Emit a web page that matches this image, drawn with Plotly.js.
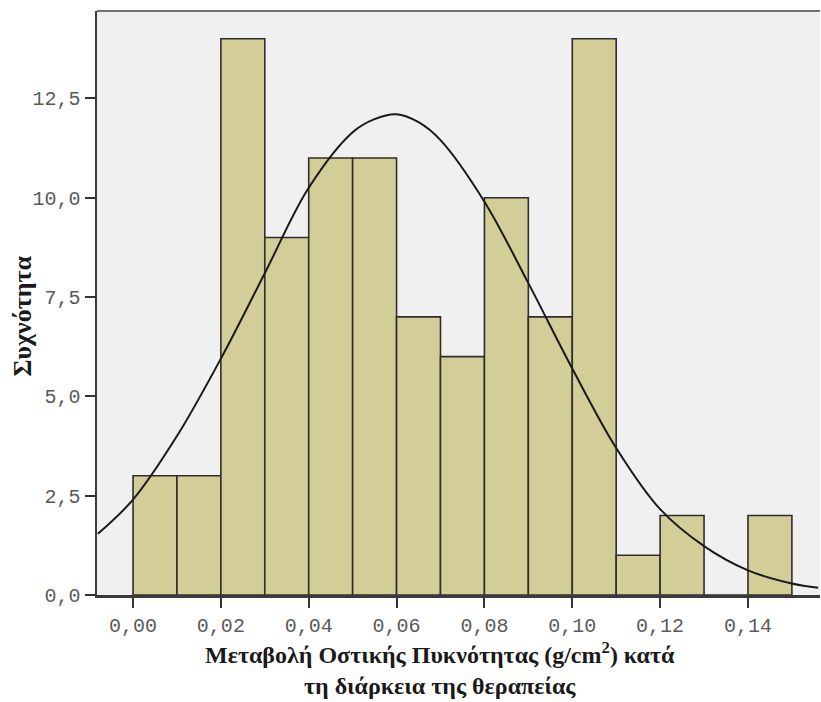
<!DOCTYPE html>
<html>
<head>
<meta charset="utf-8">
<script src="https://cdn.plot.ly/plotly-3.0.1.min.js"></script>
<style>html,body{margin:0;padding:0;background:#fff;}#chart{width:821px;height:702px;}</style>
</head>
<body>
<div id="chart"></div>
<script>
// Histogram bins (left edges, width 0.01) and frequencies
const binStart = [0.00,0.01,0.02,0.03,0.04,0.05,0.06,0.07,0.08,0.09,0.10,0.11,0.12,0.13,0.14];
const counts   = [3,3,14,9,11,11,7,6,10,7,14,1,2,0,2];
const binWidth = 0.01;

// Normal curve points
const curveX = [-0.008,0.00,0.01,0.02,0.03,0.04,0.05,0.055,0.06,0.065,0.07,0.08,0.09,0.10,0.11,0.12,0.13,0.14,0.15,0.156];
const curveY = [1.54,2.40,4.00,5.95,8.10,10.25,11.65,11.98,12.10,11.90,11.45,9.90,7.85,5.70,3.70,2.16,1.23,0.62,0.29,0.18];

// Tick labels
const xTickVals = [0.00,0.02,0.04,0.06,0.08,0.10,0.12,0.14];
const xTickText = ["0,00","0,02","0,04","0,06","0,08","0,10","0,12","0,14"];
const yTickVals = [0,2.5,5,7.5,10,12.5];
const yTickText = ["0,0","2,5","5,0","7,5","10,0","12,5"];

const yTitle = "Συχνότητα";
const xTitle = "Μεταβολή Οστικής Πυκνότητας (g/cm<sup>2</sup>) κατά<br>τη διάρκεια της θεραπείας";

const traces = [
  {
    type: 'bar',
    x: binStart,
    y: counts,
    width: binWidth,
    offset: 0,
    marker: {color: '#d3ce97', line: {color: '#2e2e2e', width: 1.6}},
    hoverinfo: 'skip'
  },
  {
    type: 'scatter',
    mode: 'lines',
    x: curveX,
    y: curveY,
    line: {color: '#1a1a1a', width: 2, shape: 'spline', smoothing: 1},
    hoverinfo: 'skip'
  }
];

const tickFont = {family: 'Liberation Mono, Courier New, monospace', size: 20, color: '#5a5a5a'};
const titleFont = {family: 'Liberation Serif, Times New Roman, serif', color: '#1a1a1a'};

const layout = {
  width: 821, height: 702,
  margin: {l: 97, r: 1, t: 11, b: 107},
  paper_bgcolor: '#ffffff',
  plot_bgcolor: '#f0f0f0',
  showlegend: false,
  bargap: 0,
  xaxis: {
    range: [-0.0082, 0.1564],
    tickvals: xTickVals, ticktext: xTickText,
    ticks: 'outside', ticklen: 10, tickwidth: 2, tickcolor: '#333333',
    showline: true, linecolor: '#3a3a3a', linewidth: 2.5,
    showgrid: false, zeroline: false,
    tickfont: tickFont
  },
  yaxis: {
    range: [0, 14.7],
    tickvals: yTickVals, ticktext: yTickText,
    ticks: 'outside', ticklen: 10, tickwidth: 2, tickcolor: '#333333',
    showline: true, linecolor: '#3a3a3a', linewidth: 2.5,
    showgrid: false, zeroline: false,
    tickfont: tickFont
  },
  shapes: [
    {type: 'line', xref: 'paper', yref: 'paper', x0: 0, x1: 1, y0: 1, y1: 1, line: {color: '#707070', width: 2}}
  ],
  annotations: [
    {
      text: '<b>' + xTitle + '</b>',
      xref: 'paper', yref: 'paper',
      x: 0.474, y: -0.070,
      xanchor: 'center', yanchor: 'top',
      showarrow: false, align: 'center',
      font: Object.assign({size: 24}, titleFont)
    },
    {
      text: '<b>' + yTitle + '</b>',
      xref: 'paper', yref: 'paper',
      x: -0.103, y: 0.478,
      xanchor: 'center', yanchor: 'middle',
      textangle: -90,
      showarrow: false,
      font: Object.assign({size: 26}, titleFont)
    }
  ]
};

Plotly.newPlot('chart', traces, layout, {staticPlot: true, displayModeBar: false});
</script>
</body>
</html>
